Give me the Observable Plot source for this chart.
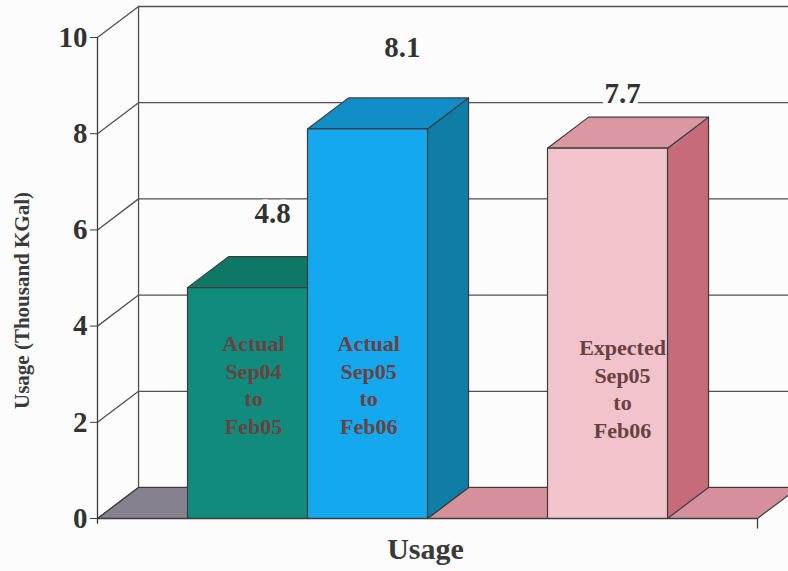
<!DOCTYPE html>
<html>
<head>
<meta charset="utf-8">
<script src="https://cdn.jsdelivr.net/npm/d3@7"></script>
<script src="https://cdn.jsdelivr.net/npm/@observablehq/plot@0.6"></script>
<style>
  html, body { margin: 0; padding: 0; background: #fcfcfc; }
  #chart svg { display: block; }
</style>
</head>
<body>
<div id="chart"></div>
<script>
// ---- data ----
const categories = ["Actual\nSep04\nto\nFeb05", "Actual\nSep05\nto\nFeb06", "Expected\nSep05\nto\nFeb06"];
const values = [4.8, 8.1, 7.7];
const yTicks = [0, 2, 4, 6, 8, 10];
const yTitle = "Usage (Thousand KGal)";
const xTitle = "Usage";

// ---- layout (pseudo-3D geometry, in scale units) ----
const slots = [0.75, 1.75, 3.75];     // left edge of each bar's front face
const barW = 1;
const floorEnd = 5.5;
const DX = 0.342, DY = 0.645;         // depth offset
const labelOff = [[0.21, 1.54], [0.29, 1.68], [0.125, 1.14]];
const innerOff = [[0.05, 2.8], [0.01, 2.8], [0.125, 2.72]];
const faceColors = [
  {front: "#118c7c", top: "#0e7766", side: "#0d6e5f"},
  {front: "#14a9ef", top: "#128ec6", side: "#0f7ea6"},
  {front: "#f1c3cb", top: "#db98a3", side: "#c56b79"}
];
const edge = "#3c3c3c";

const poly = pts => pts.map(([x, y]) => ({x, y}));
const marks = [];

// back wall grid
marks.push(Plot.ruleY(yTicks, {y: d => d + DY, x1: DX, x2: floorEnd + DX + 0.3, stroke: "#505050", strokeWidth: 1.3}));
marks.push(Plot.link(yTicks, {x1: 0, y1: d => d, x2: DX, y2: d => d + DY, stroke: "#505050", strokeWidth: 1.3}));
marks.push(Plot.ruleX([DX], {y1: DY, y2: 10 + DY, stroke: "#505050", strokeWidth: 1.3}));

// floor
const split = slots[1] + barW;
marks.push(Plot.line(poly([[0,0],[split,0],[split+DX,DY],[DX,DY],[0,0]]), {x: "x", y: "y", fill: "#86818f", stroke: edge, strokeWidth: 1.2}));
marks.push(Plot.line(poly([[split,0],[floorEnd,0],[floorEnd+DX,DY],[split+DX,DY],[split,0]]), {x: "x", y: "y", fill: "#d6909b", stroke: edge, strokeWidth: 1.2}));

// bars
values.forEach((v, i) => {
  const s = slots[i], c = faceColors[i];
  marks.push(Plot.line(poly([[s+barW,0],[s+barW+DX,DY],[s+barW+DX,v+DY],[s+barW,v],[s+barW,0]]), {x: "x", y: "y", fill: c.side, stroke: edge, strokeWidth: 1.2}));
  marks.push(Plot.line(poly([[s,v],[s+barW,v],[s+barW+DX,v+DY],[s+DX,v+DY],[s,v]]), {x: "x", y: "y", fill: c.top, stroke: edge, strokeWidth: 1.2}));
  marks.push(Plot.line(poly([[s,0],[s+barW,0],[s+barW,v],[s,v],[s,0]]), {x: "x", y: "y", fill: c.front, stroke: edge, strokeWidth: 1.2}));
});

// front axis and baseline
marks.push(Plot.ruleX([0], {y1: -0.12, y2: 10, stroke: edge, strokeWidth: 1.3}));
marks.push(Plot.ruleY([0], {x1: 0, x2: floorEnd, stroke: edge, strokeWidth: 1.3}));
marks.push(Plot.ruleX([floorEnd], {y1: -0.22, y2: 0, stroke: edge, strokeWidth: 1.3}));
marks.push(Plot.axisY({ticks: yTicks, tickSize: 7, tickPadding: 3, fontSize: 29, fontWeight: "bold", fill: "#333", stroke: edge, label: null}));

// inner bar labels
const inner = values.map((v, i) => ({t: categories[i], x: slots[i] + barW / 2 + innerOff[i][0], y: innerOff[i][1]}));
marks.push(Plot.text(inner, {x: "x", y: "y", text: "t", fontSize: 22, fontWeight: "bold", lineHeight: 1.25, fill: "#6a4040"}));

// value labels
const vals = values.map((v, i) => ({t: v.toFixed(1), x: slots[i] + barW / 2 + labelOff[i][0], y: v + labelOff[i][1]}));
marks.push(Plot.text(vals, {x: "x", y: "y", text: "t", fontSize: 29, fontWeight: "bold", fill: "#333", stroke: "#fcfcfc", strokeWidth: 9, paintOrder: "stroke"}));

// titles
marks.push(Plot.text([yTitle], {frameAnchor: "left", textAnchor: "middle", dx: -75, dy: 38, rotate: -90, fontSize: 21, fontWeight: "bold", fill: "#3a3a3a"}));
marks.push(Plot.text([xTitle], {frameAnchor: "bottom", dx: -2, dy: 40, fontSize: 30, fontWeight: "bold", fill: "#3a3a3a"}));

const chart = Plot.plot({
  width: 788,
  height: 571,
  marginLeft: 97,
  marginRight: 31,
  marginTop: 6,
  marginBottom: 53,
  style: {fontFamily: "'Liberation Serif', 'Times New Roman', serif", background: "#fcfcfc", overflow: "hidden"},
  x: {type: "linear", domain: [0, floorEnd], axis: null},
  y: {type: "linear", domain: [0, 10 + DY], axis: null},
  marks
});
document.getElementById("chart").appendChild(chart);
</script>
</body>
</html>
